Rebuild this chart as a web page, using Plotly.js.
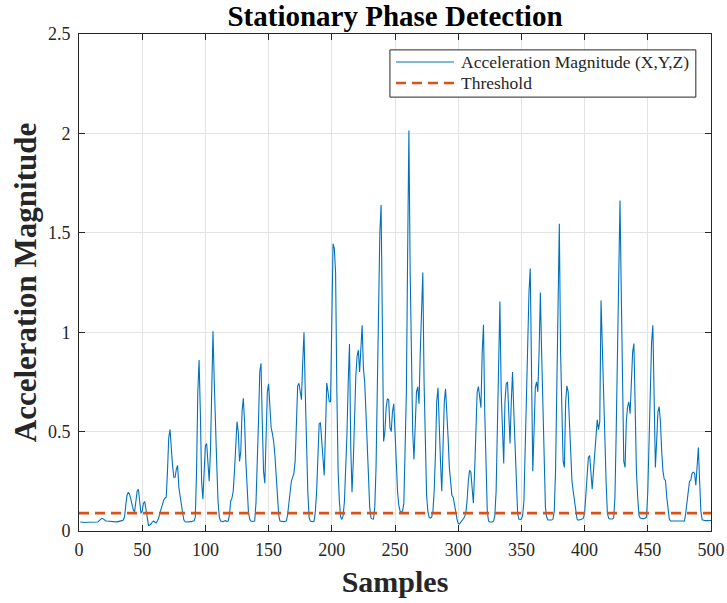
<!DOCTYPE html>
<html>
<head>
<meta charset="utf-8">
<script src="https://cdn.plot.ly/plotly-3.0.1.min.js"></script>
<style>
  html, body { margin: 0; padding: 0; background: #ffffff; }
  #chart { width: 727px; height: 603px; }
</style>
</head>
<body>
<div id="chart"></div>
<script>
// Acceleration magnitude per sample (combined X, Y, Z)
const magnitude = [
  0.045, 0.044, 0.044, 0.043, 0.043, 0.044, 0.044, 0.043, 0.044, 0.045,
  0.044, 0.043, 0.043, 0.042, 0.045, 0.052, 0.060, 0.064, 0.062, 0.056,
  0.052, 0.050, 0.049, 0.050, 0.048, 0.047, 0.046, 0.047, 0.046, 0.046,
  0.047, 0.048, 0.050, 0.052, 0.055, 0.070, 0.130, 0.180, 0.195, 0.185,
  0.160, 0.130, 0.105, 0.097, 0.140, 0.200, 0.210, 0.160, 0.090, 0.100,
  0.140, 0.148, 0.100, 0.050, 0.028, 0.030, 0.035, 0.045, 0.050, 0.045,
  0.040, 0.050, 0.065, 0.090, 0.115, 0.140, 0.155, 0.165, 0.170, 0.300,
  0.470, 0.510, 0.400, 0.330, 0.270, 0.270, 0.310, 0.330, 0.220, 0.170,
  0.140, 0.090, 0.055, 0.046, 0.045, 0.045, 0.046, 0.045, 0.047, 0.050,
  0.050, 0.070, 0.300, 0.700, 0.860, 0.600, 0.250, 0.160, 0.300, 0.430,
  0.440, 0.350, 0.250, 0.400, 0.800, 1.005, 0.750, 0.500, 0.330, 0.150,
  0.070, 0.050, 0.048, 0.047, 0.050, 0.052, 0.048, 0.050, 0.080, 0.150,
  0.165, 0.200, 0.300, 0.450, 0.550, 0.500, 0.350, 0.400, 0.600, 0.667,
  0.550, 0.350, 0.200, 0.100, 0.060, 0.050, 0.048, 0.048, 0.050, 0.140,
  0.300, 0.550, 0.800, 0.843, 0.550, 0.300, 0.240, 0.450, 0.700, 0.740,
  0.620, 0.520, 0.490, 0.450, 0.380, 0.260, 0.170, 0.080, 0.050, 0.048,
  0.047, 0.047, 0.048, 0.050, 0.080, 0.150, 0.210, 0.250, 0.270, 0.290,
  0.350, 0.600, 0.730, 0.743, 0.700, 0.660, 0.850, 1.000, 0.700, 0.370,
  0.200, 0.070, 0.050, 0.048, 0.047, 0.050, 0.100, 0.200, 0.400, 0.540,
  0.545, 0.450, 0.330, 0.280, 0.500, 0.745, 0.700, 0.650, 0.650, 1.000,
  1.445, 1.420, 1.300, 0.700, 0.300, 0.150, 0.070, 0.058, 0.080, 0.150,
  0.300, 0.490, 0.750, 0.940, 0.420, 0.195, 0.350, 0.630, 0.780, 0.880,
  0.910, 0.800, 0.950, 1.035, 0.820, 0.750, 0.600, 0.420, 0.300, 0.120,
  0.065, 0.060, 0.060, 0.120, 0.320, 0.700, 1.000, 1.500, 1.640, 0.850,
  0.450, 0.500, 0.620, 0.665, 0.660, 0.520, 0.500, 0.600, 0.640, 0.500,
  0.330, 0.200, 0.130, 0.100, 0.095, 0.100, 0.140, 0.400, 0.700, 1.400,
  2.015, 1.300, 0.850, 0.500, 0.360, 0.500, 0.700, 0.725, 0.640, 0.900,
  1.100, 1.300, 0.750, 0.380, 0.180, 0.100, 0.070, 0.065, 0.070, 0.100,
  0.200, 0.390, 0.650, 0.720, 0.500, 0.350, 0.200, 0.420, 0.650, 0.715,
  0.620, 0.470, 0.320, 0.220, 0.180, 0.170, 0.140, 0.100, 0.060, 0.038,
  0.035, 0.045, 0.055, 0.060, 0.070, 0.090, 0.150, 0.250, 0.305, 0.296,
  0.220, 0.140, 0.300, 0.500, 0.700, 0.726, 0.660, 0.620, 0.900, 1.037,
  0.600, 0.350, 0.100, 0.050, 0.045, 0.045, 0.045, 0.050, 0.080, 0.200,
  0.470, 0.900, 1.155, 0.700, 0.450, 0.340, 0.650, 0.740, 0.750, 0.600,
  0.440, 0.650, 0.800, 0.600, 0.420, 0.200, 0.090, 0.060, 0.058, 0.060,
  0.080, 0.150, 0.400, 0.750, 1.000, 1.200, 1.320, 0.750, 0.300, 0.500,
  0.720, 0.750, 0.700, 0.900, 1.200, 0.900, 0.600, 0.300, 0.120, 0.070,
  0.055, 0.055, 0.055, 0.055, 0.060, 0.100, 0.300, 0.700, 1.100, 1.545,
  0.900, 0.550, 0.350, 0.320, 0.650, 0.730, 0.700, 0.550, 0.400, 0.250,
  0.200, 0.160, 0.120, 0.060, 0.055, 0.055, 0.058, 0.060, 0.065, 0.090,
  0.200, 0.300, 0.370, 0.380, 0.300, 0.210, 0.300, 0.400, 0.500, 0.560,
  0.510, 0.550, 1.160, 0.900, 0.680, 0.450, 0.250, 0.090, 0.065, 0.060,
  0.060, 0.060, 0.065, 0.170, 0.500, 0.900, 1.300, 1.663, 1.200, 0.800,
  0.350, 0.320, 0.550, 0.625, 0.650, 0.590, 0.750, 0.900, 0.943, 0.550,
  0.300, 0.170, 0.080, 0.065, 0.062, 0.062, 0.062, 0.065, 0.070, 0.200,
  0.450, 0.800, 0.950, 1.035, 0.600, 0.320, 0.450, 0.600, 0.625, 0.550,
  0.400, 0.300, 0.260, 0.255, 0.170, 0.110, 0.060, 0.050, 0.050, 0.050,
  0.050, 0.050, 0.050, 0.050, 0.050, 0.048, 0.048, 0.050, 0.050, 0.090,
  0.150, 0.220, 0.250, 0.255, 0.290, 0.296, 0.290, 0.230, 0.350, 0.420,
  0.250, 0.100, 0.056, 0.053, 0.053, 0.052, 0.053, 0.052, 0.053, 0.053
];

// Sample index (1-based)
const samples = magnitude.map((_, i) => i + 1);

// Stationary-phase threshold
const thresholdValue = 0.09;
const thresholdX = [0, 500];
const thresholdY = [thresholdValue, thresholdValue];

// Axis ticks
const xTicks = [0, 50, 100, 150, 200, 250, 300, 350, 400, 450, 500];
const yTicks = [0, 0.5, 1, 1.5, 2, 2.5];
const yTickText = ['0', '0.5', '1', '1.5', '2', '2.5'];

// Legend entries
const seriesNames = ['Acceleration Magnitude (X,Y,Z)', 'Threshold'];
const seriesColors = ['#0072BD', '#D95319'];

const serif = 'Liberation Serif, Times New Roman, serif';
const ink = '#262626';
const thresholdDash = '10px,6px';

const traces = [
  {
    x: samples,
    y: magnitude,
    type: 'scatter',
    mode: 'lines',
    name: seriesNames[0],
    line: { color: seriesColors[0], width: 1.1 }
  },
  {
    x: thresholdX,
    y: thresholdY,
    type: 'scatter',
    mode: 'lines',
    name: seriesNames[1],
    line: { color: seriesColors[1], width: 2.6, dash: thresholdDash }
  }
];

const axisCommon = {
  showline: true,
  linecolor: ink,
  linewidth: 1,
  mirror: 'ticks',
  ticks: 'inside',
  ticklen: 6,
  tickcolor: ink,
  tickwidth: 1,
  showgrid: true,
  gridcolor: '#e3e3e3',
  gridwidth: 1,
  zeroline: false,
  ticklabelstandoff: 2,
  tickfont: { family: serif, size: 18, color: ink }
};

// Boxed legend in the upper right of the axes (paper coordinates)
const legendBox = { x0: 0.492, x1: 0.976, y0: 0.873, y1: 0.968 };
const legendRows = [0.9437, 0.9014];
const sampleX = [0.5016, 0.5934];
const labelX = 0.6013;

const shapes = [
  {
    type: 'rect', xref: 'paper', yref: 'paper', layer: 'above',
    x0: legendBox.x0, x1: legendBox.x1, y0: legendBox.y0, y1: legendBox.y1,
    fillcolor: '#ffffff', line: { color: ink, width: 1 }
  },
  {
    type: 'line', xref: 'paper', yref: 'paper', layer: 'above',
    x0: sampleX[0], x1: sampleX[1], y0: legendRows[0], y1: legendRows[0],
    line: { color: seriesColors[0], width: 1.1 }
  },
  {
    type: 'line', xref: 'paper', yref: 'paper', layer: 'above',
    x0: sampleX[0], x1: sampleX[1], y0: legendRows[1], y1: legendRows[1],
    line: { color: seriesColors[1], width: 2.6, dash: thresholdDash }
  }
];

const annotations = seriesNames.map((name, i) => ({
  text: name,
  xref: 'paper', yref: 'paper',
  x: labelX, y: legendRows[i],
  xanchor: 'left', yanchor: 'middle',
  showarrow: false,
  font: { family: serif, size: 17.5, color: ink }
}));

const layout = {
  width: 727,
  height: 603,
  margin: { l: 79, r: 16, t: 34, b: 72, pad: 0 },
  paper_bgcolor: '#ffffff',
  plot_bgcolor: '#ffffff',
  showlegend: false,
  title: {
    text: '<b>Stationary Phase Detection</b>',
    font: { family: serif, size: 29, color: '#000000' },
    x: 0.5,
    xref: 'paper',
    xanchor: 'center',
    y: 0.974,
    yref: 'container',
    yanchor: 'middle'
  },
  xaxis: Object.assign({}, axisCommon, {
    range: [0, 500],
    tickvals: xTicks,
    ticktext: xTicks.map(String),
    title: {
      text: '<b>Samples</b>',
      font: { family: serif, size: 30, color: ink },
      standoff: 12
    }
  }),
  yaxis: Object.assign({}, axisCommon, {
    range: [0, 2.5],
    tickvals: yTicks,
    ticktext: yTickText,
    ticklabelstandoff: 4,
    title: {
      text: '<b>Acceleration Magnitude</b>',
      font: { family: serif, size: 31, color: ink },
      standoff: 2
    }
  }),
  shapes: shapes,
  annotations: annotations
};

Plotly.newPlot('chart', traces, layout, { displayModeBar: false, staticPlot: true });
</script>
</body>
</html>
